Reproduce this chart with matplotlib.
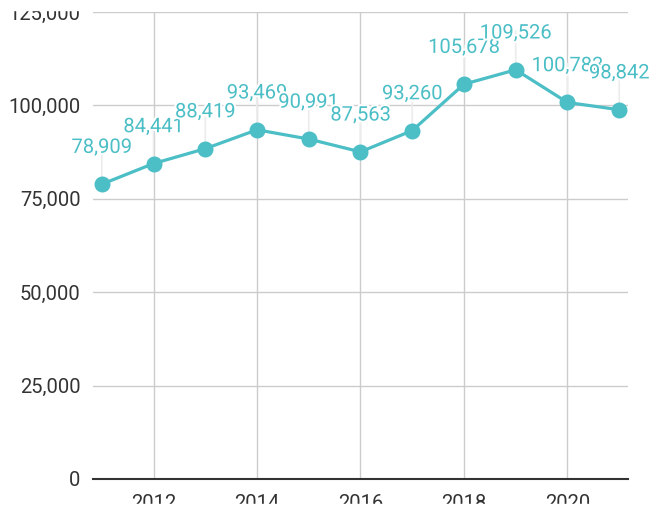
import matplotlib
matplotlib.use('Agg')
import matplotlib.pyplot as plt
import matplotlib.patheffects as pe
from matplotlib.patches import Rectangle
from matplotlib.ticker import FuncFormatter

## values
years = [2011, 2012, 2013, 2014, 2015, 2016, 2017, 2018, 2019, 2020, 2021]
values = [78909, 84441, 88419, 93469, 90991, 87563, 93260, 105678, 109526, 100783, 98842]
yticks = [0, 25000, 50000, 75000, 100000, 125000]
xticks = [2012, 2014, 2016, 2018, 2020]

teal = '#4bbec6'
plt.rcParams['font.family'] = ['Roboto', 'DejaVu Sans']

fig = plt.figure(figsize=(6.51, 5.08), dpi=100)
ax = fig.add_axes([93/651, 1 - 479/508, 535/651, 467/508])

ax.plot(years, values, color=teal, lw=2.3, marker='o', ms=10.5, zorder=3, clip_on=False)

## labels with faint leader lines, each one sits on top of the one before
for i, (x, v) in enumerate(zip(years, values)):
    ax.annotate('', xy=(x, v), xytext=(0, 28), textcoords='offset points',
                arrowprops=dict(arrowstyle='-', color='#ececec', lw=1.2, shrinkA=0, shrinkB=5),
                zorder=2)
    ax.annotate(f'{v:,}', xy=(x, v), xytext=(0, 26.5), textcoords='offset points',
                ha='center', va='center', fontsize=14.5, color=teal, zorder=4 + i,
                annotation_clip=False,
                path_effects=[pe.withStroke(linewidth=3, foreground='white')])

ax.set_xlim(2010.83, 2021.17)
ax.set_ylim(0, 125000)
ax.set_yticks(yticks)
ax.set_xticks(xticks)
ax.yaxis.set_major_formatter(FuncFormatter(lambda v, p: f'{int(v):,}'))
ax.grid(True, color='#cccccc', lw=1)
ax.set_axisbelow(True)
for s in ['top', 'right', 'left']:
    ax.spines[s].set_visible(False)
ax.spines['bottom'].set_color('#333333')
ax.spines['bottom'].set_linewidth(1.5)
ax.spines['bottom'].set_zorder(2.5)
ax.tick_params(length=0, labelsize=14.5, labelcolor='#333333')
ax.tick_params(axis='y', pad=9)
ax.tick_params(axis='x', pad=11)

## the source picture is a crop: top and bottom strips are blank
fig.patches.append(Rectangle((0, 1 - 10/508), 1, 10/508, transform=fig.transFigure,
                             color='white', zorder=10))
fig.patches.append(Rectangle((0, 0), 1, 4/508, transform=fig.transFigure,
                             color='white', zorder=10))

fig.savefig('out.png', dpi=100)
